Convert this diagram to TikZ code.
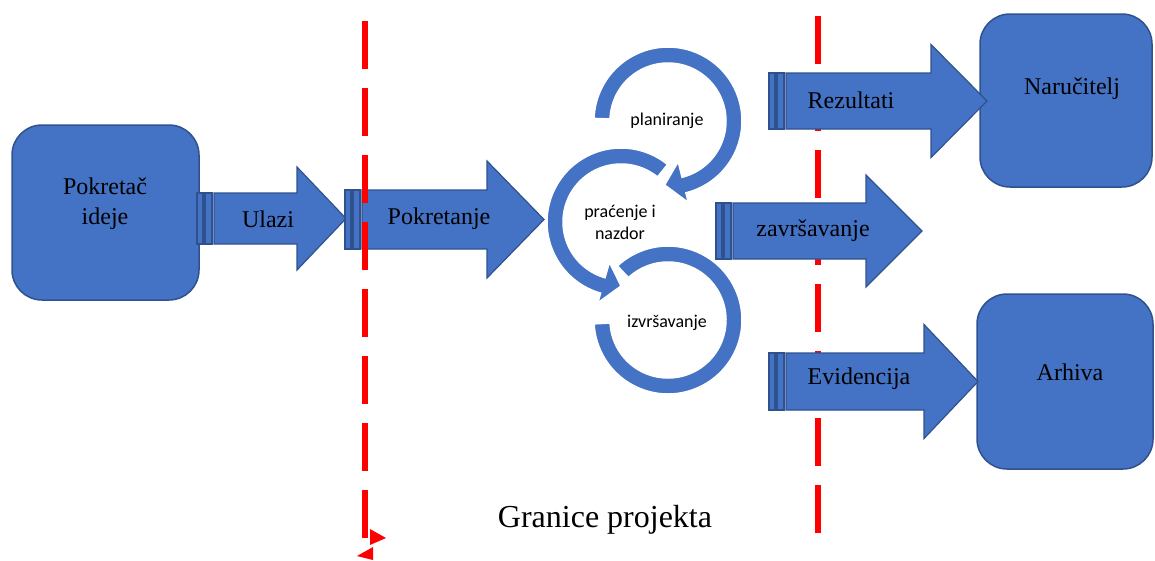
\documentclass[tikz,border=0pt]{standalone}
\usepackage{fontspec}
\setmainfont{Liberation Serif}
\newfontfamily\calibri{Carlito}
\usetikzlibrary{calc,positioning}
\definecolor{boxblue}{HTML}{4472C4}
\definecolor{edgeblue}{HTML}{2F528F}

\newcommand\stripedarrow[6]{% start x, mid y, half shaft, head x, tip x, half head
  \filldraw[arrowbody] (#1,#2-#3) rectangle (#1+6,#2+#3);
  \filldraw[arrowbody] (#1+8,#2-#3) rectangle (#1+15,#2+#3);
  \filldraw[arrowbody] (#1+17,#2-#3) -- (#4,#2-#3) -- (#4,#2-#6) -- (#5,#2)
    -- (#4,#2+#6) -- (#4,#2+#3) -- (#1+17,#2+#3) -- cycle;
}
\newcommand\ringarrow[5]{% centre x, centre y, from, to, tip
  \filldraw[ring] plot[domain=#3:#4,samples=90] ({#1+74*cos(\x)},{#2+74*sin(\x)})
    -- ({#1+84*cos(#4)},{#2+84*sin(#4)}) -- ({#1+64*cos(#5)},{#2+64*sin(#5)})
    -- ({#1+42*cos(#4)},{#2+42*sin(#4)})
    -- plot[domain=#4:#3,samples=90] ({#1+58*cos(\x)},{#2+58*sin(\x)}) -- cycle;
}
\newcommand\ringarc[4]{% centre x, centre y, from, to
  \filldraw[ring] plot[domain=#3:#4,samples=90] ({#1+74*cos(\x)},{#2+74*sin(\x)})
    -- plot[domain=#4:#3,samples=90] ({#1+58*cos(\x)},{#2+58*sin(\x)}) -- cycle;
}

\begin{document}
\begin{tikzpicture}[x=1pt,y=-1pt,
    box/.style={draw=edgeblue,fill=boxblue,line width=1.5pt,rounded corners=30pt},
    arrowbody/.style={draw=edgeblue,fill=boxblue,line width=1.2pt},
    ring/.style={draw=white,fill=boxblue,line width=1.5pt},
    boundary/.style={red,line width=6pt,dash pattern=on 48pt off 19pt},
    bigtext/.style={font=\fontsize{24}{30}\selectfont,align=center,inner sep=0pt},
    ringtext/.style={font=\calibri\fontsize{18}{22}\selectfont,align=center,inner sep=0pt}]
  \useasboundingbox (0,0) rectangle (1155,560);

  \coordinate (lefttop) at (365,21);
  \coordinate (leftbot) at (365,538);
  \coordinate (righttop) at (818,16);
  \coordinate (rightbot) at (818,533);
  \draw[boundary] (righttop) -- (rightbot);

  \node[box,minimum width=187pt,minimum height=175pt] (pokretac) at (105.5,212.5) {};
  \node[bigtext] (pokretactext) at (105,204) {Pokretač\\ideje};
  \node[box,minimum width=172pt,minimum height=173pt] (narucitelj) at (1066,100.5) {};
  \node[bigtext] (naruciteljtext) at (1072,89) {Naručitelj};
  \node[box,minimum width=176pt,minimum height=175pt] (arhiva) at (1065,381.5) {};
  \node[bigtext] (arhivatext) at (1070,372) {Arhiva};

  \stripedarrow{197}{218.5}{25.5}{297}{346}{51.5}
  \node[bigtext] (ulazi) at (268,219) {Ulazi};
  \stripedarrow{345}{219.5}{29.5}{487}{544}{58.5}
  \node[bigtext] (pokretanje) at (439,219) {Pokretanje};
  \stripedarrow{769}{101}{28}{931}{987}{56.5}
  \node[bigtext] (rezultati) at (851,100) {Rezultati};
  \stripedarrow{716}{231}{28}{866}{922}{56}
  \node[bigtext] (zavrsavanje) at (813,231) {završavanje};
  \stripedarrow{769}{381.5}{28.5}{924}{978}{57}
  \node[bigtext] (evidencija) at (859,379) {Evidencija};

  \ringarc{668}{320}{-133}{177}
  \ringarrow{621}{222}{-51}{-254}{-270}
  \ringarrow{668}{121}{-178}{76}{93}
  \node[ringtext] (planiranje) at (667,121) {planiranje};
  \node[ringtext] (pracenje) at (620,222) {praćenje i\\nazdor};
  \node[ringtext] (izvrsavanje) at (667,323) {izvršavanje};

  \draw[boundary] (lefttop) -- (leftbot);
  \fill[red] (370,529) -- (386,538) -- (370,545) -- cycle;
  \fill[red] (357,556) -- (373,547) -- (373,560) -- cycle;

  \node[font=\fontsize{32}{38}\selectfont] (granice) at (605,520) {Granice projekta};
\end{tikzpicture}
\end{document}
